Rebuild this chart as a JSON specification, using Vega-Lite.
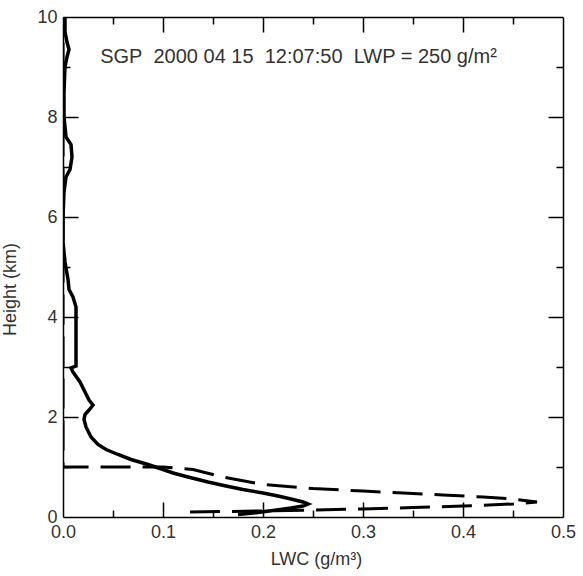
{
  "$schema": "https://vega.github.io/schema/vega-lite/v6.json",
  "autosize": {"type": "none"},
  "width": 500,
  "height": 500,
  "padding": {"left": 63, "top": 17, "right": 20, "bottom": 59},
  "background": "white",
  "config": {
    "view": {"stroke": null},
    "font": "Liberation Sans",
    "axis": {"grid": false, "labelFont": "Liberation Sans", "titleFont": "Liberation Sans", "labelFontSize": 18, "titleFontSize": 18, "labelColor": "#333", "titleColor": "#333", "titleFontWeight": "normal", "domainColor": "black", "tickColor": "black", "domainWidth": 1.5, "tickWidth": 1.5}
  },
  "datasets": {
    "solid": [
      {"i": 1, "lwc": 0.002, "h": 10.0},
      {"i": 2, "lwc": 0.002, "h": 9.7},
      {"i": 3, "lwc": 0.004, "h": 9.5},
      {"i": 4, "lwc": 0.006, "h": 9.35},
      {"i": 5, "lwc": 0.004, "h": 9.2},
      {"i": 6, "lwc": 0.002, "h": 9.0},
      {"i": 7, "lwc": 0.001, "h": 8.5},
      {"i": 8, "lwc": 0.001, "h": 8.0},
      {"i": 9, "lwc": 0.003, "h": 7.6},
      {"i": 10, "lwc": 0.008, "h": 7.45},
      {"i": 11, "lwc": 0.009, "h": 7.2},
      {"i": 12, "lwc": 0.007, "h": 6.95},
      {"i": 13, "lwc": 0.003, "h": 6.8},
      {"i": 14, "lwc": 0.001, "h": 6.5},
      {"i": 15, "lwc": 0.0, "h": 6.0},
      {"i": 16, "lwc": 0.0, "h": 5.5},
      {"i": 17, "lwc": 0.002, "h": 5.1},
      {"i": 18, "lwc": 0.005, "h": 4.75},
      {"i": 19, "lwc": 0.006, "h": 4.55},
      {"i": 20, "lwc": 0.01, "h": 4.4},
      {"i": 21, "lwc": 0.013, "h": 4.2},
      {"i": 22, "lwc": 0.013, "h": 3.9},
      {"i": 23, "lwc": 0.013, "h": 3.5},
      {"i": 24, "lwc": 0.013, "h": 3.02},
      {"i": 25, "lwc": 0.008, "h": 2.98},
      {"i": 26, "lwc": 0.01, "h": 2.9},
      {"i": 27, "lwc": 0.017, "h": 2.7},
      {"i": 28, "lwc": 0.022, "h": 2.5},
      {"i": 29, "lwc": 0.026, "h": 2.34},
      {"i": 30, "lwc": 0.03, "h": 2.24},
      {"i": 31, "lwc": 0.026, "h": 2.14},
      {"i": 32, "lwc": 0.022, "h": 2.05},
      {"i": 33, "lwc": 0.021, "h": 1.95},
      {"i": 34, "lwc": 0.023, "h": 1.8},
      {"i": 35, "lwc": 0.028, "h": 1.6},
      {"i": 36, "lwc": 0.035, "h": 1.45},
      {"i": 37, "lwc": 0.043, "h": 1.35},
      {"i": 38, "lwc": 0.055, "h": 1.25},
      {"i": 39, "lwc": 0.068, "h": 1.15},
      {"i": 40, "lwc": 0.085, "h": 1.05},
      {"i": 41, "lwc": 0.1, "h": 0.95},
      {"i": 42, "lwc": 0.11, "h": 0.88},
      {"i": 43, "lwc": 0.125, "h": 0.8},
      {"i": 44, "lwc": 0.145, "h": 0.7},
      {"i": 45, "lwc": 0.163, "h": 0.62},
      {"i": 46, "lwc": 0.18, "h": 0.55},
      {"i": 47, "lwc": 0.2, "h": 0.48},
      {"i": 48, "lwc": 0.215, "h": 0.42},
      {"i": 49, "lwc": 0.228, "h": 0.36},
      {"i": 50, "lwc": 0.24, "h": 0.3},
      {"i": 51, "lwc": 0.245, "h": 0.26},
      {"i": 52, "lwc": 0.24, "h": 0.22},
      {"i": 53, "lwc": 0.228, "h": 0.18},
      {"i": 54, "lwc": 0.21, "h": 0.13},
      {"i": 55, "lwc": 0.19, "h": 0.08},
      {"i": 56, "lwc": 0.175, "h": 0.05}
    ],
    "dashed": [
      {"i": 1, "lwc": 0.127, "h": 0.1},
      {"i": 2, "lwc": 0.16, "h": 0.11},
      {"i": 3, "lwc": 0.2, "h": 0.12},
      {"i": 4, "lwc": 0.25, "h": 0.14},
      {"i": 5, "lwc": 0.3, "h": 0.16},
      {"i": 6, "lwc": 0.35, "h": 0.19},
      {"i": 7, "lwc": 0.4, "h": 0.22},
      {"i": 8, "lwc": 0.45, "h": 0.26},
      {"i": 9, "lwc": 0.474, "h": 0.3},
      {"i": 10, "lwc": 0.45, "h": 0.36},
      {"i": 11, "lwc": 0.42, "h": 0.4},
      {"i": 12, "lwc": 0.38, "h": 0.44},
      {"i": 13, "lwc": 0.34, "h": 0.48},
      {"i": 14, "lwc": 0.3, "h": 0.52},
      {"i": 15, "lwc": 0.25, "h": 0.57},
      {"i": 16, "lwc": 0.2, "h": 0.65},
      {"i": 17, "lwc": 0.16, "h": 0.8},
      {"i": 18, "lwc": 0.13, "h": 0.95},
      {"i": 19, "lwc": 0.1, "h": 1.0},
      {"i": 20, "lwc": 0.0, "h": 1.0},
      {"i": 21, "lwc": 0.0, "h": 10.0}
    ],
    "label": [
      {"lwc": 0.2355, "h": 9.2, "text": "SGP\u00a0 2000 04 15\u00a0 12:07:50\u00a0 LWP = 250 g/m²"}
    ]
  },
  "layer": [
    {
      "data": {"name": "solid"},
      "mark": {"type": "line", "color": "black", "strokeWidth": 3.5, "clip": true},
      "encoding": {
        "x": {"field": "lwc", "type": "quantitative", "scale": {"domain": [0, 0.5], "nice": false, "zero": false},
              "axis": {"orient": "bottom", "title": "LWC (g/m³)", "ticks": false, "values": [0, 0.1, 0.2, 0.3, 0.4, 0.5], "format": ".1f", "labelPadding": 6, "titleX": 253, "titleY": 33, "titleBaseline": "top", "labelFlush": false}},
        "y": {"field": "h", "type": "quantitative", "scale": {"domain": [0, 10], "nice": false, "zero": false},
              "axis": {"orient": "left", "title": "Height (km)", "ticks": false, "values": [0, 2, 4, 6, 8, 10], "labelPadding": 6, "titleX": -44, "titleY": 272, "labelFlush": false}},
        "order": {"field": "i", "type": "quantitative"}
      }
    },
    {
      "data": {"name": "dashed"},
      "mark": {"type": "line", "color": "black", "strokeWidth": 3, "strokeDash": [30, 12], "clip": true},
      "encoding": {
        "x": {"field": "lwc", "type": "quantitative", "scale": {"domain": [0, 0.5], "nice": false, "zero": false},
              "axis": {"orient": "bottom", "title": null, "labels": false, "domain": false, "values": [0.1, 0.2, 0.3, 0.4], "tickSize": -15}},
        "y": {"field": "h", "type": "quantitative", "scale": {"domain": [0, 10], "nice": false, "zero": false},
              "axis": {"orient": "left", "title": null, "labels": false, "domain": false, "values": [2, 4, 6, 8], "tickSize": -15}},
        "order": {"field": "i", "type": "quantitative"}
      }
    },
    {
      "data": {"name": "dashed"},
      "mark": {"type": "line", "opacity": 0},
      "encoding": {
        "x": {"field": "lwc", "type": "quantitative", "scale": {"domain": [0, 0.5], "nice": false, "zero": false},
              "axis": {"orient": "bottom", "title": null, "labels": false, "domain": false, "values": [0.05, 0.15, 0.25, 0.35, 0.45], "tickSize": -7}},
        "y": {"field": "h", "type": "quantitative", "scale": {"domain": [0, 10], "nice": false, "zero": false},
              "axis": {"orient": "left", "title": null, "labels": false, "domain": false, "values": [1, 3, 5, 7, 9], "tickSize": -7}},
        "order": {"field": "i", "type": "quantitative"}
      }
    },
    {
      "data": {"name": "dashed"},
      "mark": {"type": "line", "opacity": 0},
      "encoding": {
        "x": {"field": "lwc", "type": "quantitative", "scale": {"domain": [0, 0.5], "nice": false, "zero": false},
              "axis": {"orient": "top", "title": null, "labels": false, "domain": true, "values": [0.1, 0.2, 0.3, 0.4], "tickSize": -15}},
        "y": {"field": "h", "type": "quantitative", "scale": {"domain": [0, 10], "nice": false, "zero": false},
              "axis": {"orient": "right", "title": null, "labels": false, "domain": true, "values": [2, 4, 6, 8], "tickSize": -15}},
        "order": {"field": "i", "type": "quantitative"}
      }
    },
    {
      "data": {"name": "dashed"},
      "mark": {"type": "line", "opacity": 0},
      "encoding": {
        "x": {"field": "lwc", "type": "quantitative", "scale": {"domain": [0, 0.5], "nice": false, "zero": false},
              "axis": {"orient": "top", "title": null, "labels": false, "domain": false, "values": [0.05, 0.15, 0.25, 0.35, 0.45], "tickSize": -7}},
        "y": {"field": "h", "type": "quantitative", "scale": {"domain": [0, 10], "nice": false, "zero": false},
              "axis": {"orient": "right", "title": null, "labels": false, "domain": false, "values": [1, 3, 5, 7, 9], "tickSize": -7}},
        "order": {"field": "i", "type": "quantitative"}
      }
    },
    {
      "data": {"name": "label"},
      "mark": {"type": "text", "font": "Liberation Sans", "fontSize": 20, "color": "#333", "align": "center", "baseline": "middle"},
      "encoding": {
        "x": {"field": "lwc", "type": "quantitative", "scale": {"domain": [0, 0.5], "nice": false, "zero": false}, "axis": null},
        "y": {"field": "h", "type": "quantitative", "scale": {"domain": [0, 10], "nice": false, "zero": false}, "axis": null},
        "text": {"field": "text"}
      }
    }
  ],
  "resolve": {"axis": {"x": "independent", "y": "independent"}}
}
